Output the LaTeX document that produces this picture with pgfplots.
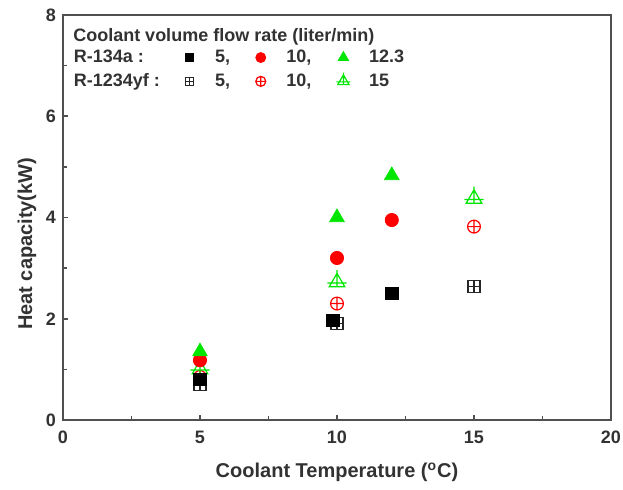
\documentclass[border=0pt]{standalone}
\usepackage{fontspec}
\setmainfont{Liberation Sans}
\usepackage{pgfplots}
\pgfplotsset{compat=1.18}
\usetikzlibrary{plotmarks}

% open marks with a cross inside
\pgfdeclareplotmark{sqplus}{%
  \pgfpathrectangle{\pgfqpoint{-\pgfplotmarksize}{-\pgfplotmarksize}}{\pgfqpoint{2\pgfplotmarksize}{2\pgfplotmarksize}}%
  \pgfpathmoveto{\pgfqpoint{-\pgfplotmarksize}{0pt}}\pgfpathlineto{\pgfqpoint{\pgfplotmarksize}{0pt}}%
  \pgfpathmoveto{\pgfqpoint{0pt}{-\pgfplotmarksize}}\pgfpathlineto{\pgfqpoint{0pt}{\pgfplotmarksize}}%
  \pgfusepathqstroke}
\pgfdeclareplotmark{triplus}{%
  \pgfpathmoveto{\pgfqpointpolar{90}{1.25\pgfplotmarksize}}%
  \pgfpathlineto{\pgfqpointpolar{-30}{1.25\pgfplotmarksize}}%
  \pgfpathlineto{\pgfqpointpolar{210}{1.25\pgfplotmarksize}}%
  \pgfpathclose
  \pgfpathmoveto{\pgfqpoint{0pt}{-0.625\pgfplotmarksize}}\pgfpathlineto{\pgfqpoint{0pt}{1.7\pgfplotmarksize}}%
  \pgfpathmoveto{\pgfqpoint{-1.35\pgfplotmarksize}{-0.1\pgfplotmarksize}}\pgfpathlineto{\pgfqpoint{1.35\pgfplotmarksize}{-0.1\pgfplotmarksize}}%
  \pgfusepathqstroke}

\definecolor{cgreen}{RGB}{0,230,0}
\definecolor{axgray}{RGB}{80,80,80}
\definecolor{txt}{RGB}{50,50,50}

\begin{document}
\begin{tikzpicture}
\useasboundingbox (-31.5pt,-35pt) rectangle (280pt,210pt);
\begin{axis}[
    at={(0,0)}, anchor=south west,
    scale only axis,
    width=274pt, height=202.5pt,
    xmin=0, xmax=20, ymin=0, ymax=8,
    xtick={0,5,10,15,20}, ytick={0,2,4,6,8},
    minor xtick={2.5,7.5,12.5,17.5},
    minor ytick={1,3,5,7},
    tick align=inside,
    xtick pos=bottom, ytick pos=left,
    major tick length=2.5pt, minor tick length=2pt,
    axis line style={axgray, line width=0.9pt},
    every tick/.style={axgray, line width=0.8pt},
    /pgf/number format/assume math mode=true,
    ticklabel style={font=\bfseries\fontsize{9}{10}\selectfont, text=txt},
    xticklabel style={yshift=-2pt},
    xlabel={Coolant Temperature (\textsuperscript{o}C)},
    ylabel={Heat capacity(kW)},
    label style={font=\bfseries\fontsize{10}{12}\selectfont, text=txt},
    xlabel style={yshift=-2.5pt},
    ylabel style={at={(ticklabel cs:0.435)}, yshift=-2pt},
    legend columns=4,
    legend cell align=left,
    legend image code/.code={%
        \path (-2.5pt,-2pt) (10.5pt,2pt);
        \draw[only marks,#1] plot coordinates {(0pt,0pt)};},
    legend style={draw=none, fill=none, inner sep=0pt,
        at={(0.012,0.925)}, anchor=north west,
        font=\bfseries\fontsize{9}{10}\selectfont, text=txt,
        /tikz/every even column/.append style={column sep=10.5pt},
        row sep=0pt},
]
% R-1234yf, open marks with cross
\addplot[forget plot, only marks, draw=black!85, line width=0.6pt, mark=sqplus, mark size=3pt]
    coordinates {(5,0.70) (10,1.91) (15,2.64)};
\addplot[forget plot, only marks, draw=red, line width=0.6pt, mark=oplus, mark size=3.2pt]
    coordinates {(5,0.85) (10,2.30) (15,3.82)};
\addplot[forget plot, only marks, draw=cgreen, line width=0.6pt, mark=triplus, mark size=3.6pt]
    coordinates {(5,1.00) (10,2.72) (15,4.37)};
% R-134a, filled marks
\addplot[forget plot, only marks, mark=square*, mark size=3.1pt, draw=black, fill=black]
    coordinates {(5,0.80) (9.85,1.97) (12,2.50)};
\addplot[forget plot, only marks, mark=*, mark size=3.3pt, draw=red, fill=red]
    coordinates {(5,1.18) (10,3.20) (12,3.95)};
\addplot[forget plot, only marks, mark=triangle*, mark size=4.2pt, draw=cgreen, fill=cgreen]
    coordinates {(5,1.35) (10,4.00) (12,4.83)};

\addlegendimage{empty legend}
\addlegendentry{\makebox[42.5pt][l]{R-134a :}}
\addlegendimage{mark=square*, mark size=2pt, draw=black, fill=black}
\addlegendentry{5,}
\addlegendimage{mark=*, mark size=2.5pt, draw=red, fill=red}
\addlegendentry{10,}
\addlegendimage{mark=triangle*, mark size=3pt, draw=cgreen, fill=cgreen}
\addlegendentry{12.3}
\addlegendimage{empty legend}
\addlegendentry{\makebox[42.5pt][l]{R-1234yf :}}
\addlegendimage{mark=sqplus, mark size=2pt, draw=black!85, line width=0.6pt}
\addlegendentry{5,}
\addlegendimage{mark=oplus, mark size=2.5pt, draw=red, line width=0.6pt}
\addlegendentry{10,}
\addlegendimage{mark=triplus, mark size=2.6pt, draw=cgreen, line width=0.6pt}
\addlegendentry{15}

\node[anchor=west, font=\bfseries\fontsize{9}{10}\selectfont, text=txt, inner sep=0pt]
    at (axis description cs:0.018,0.947) {Coolant volume flow rate (liter/min)};
\end{axis}
\end{tikzpicture}
\end{document}
